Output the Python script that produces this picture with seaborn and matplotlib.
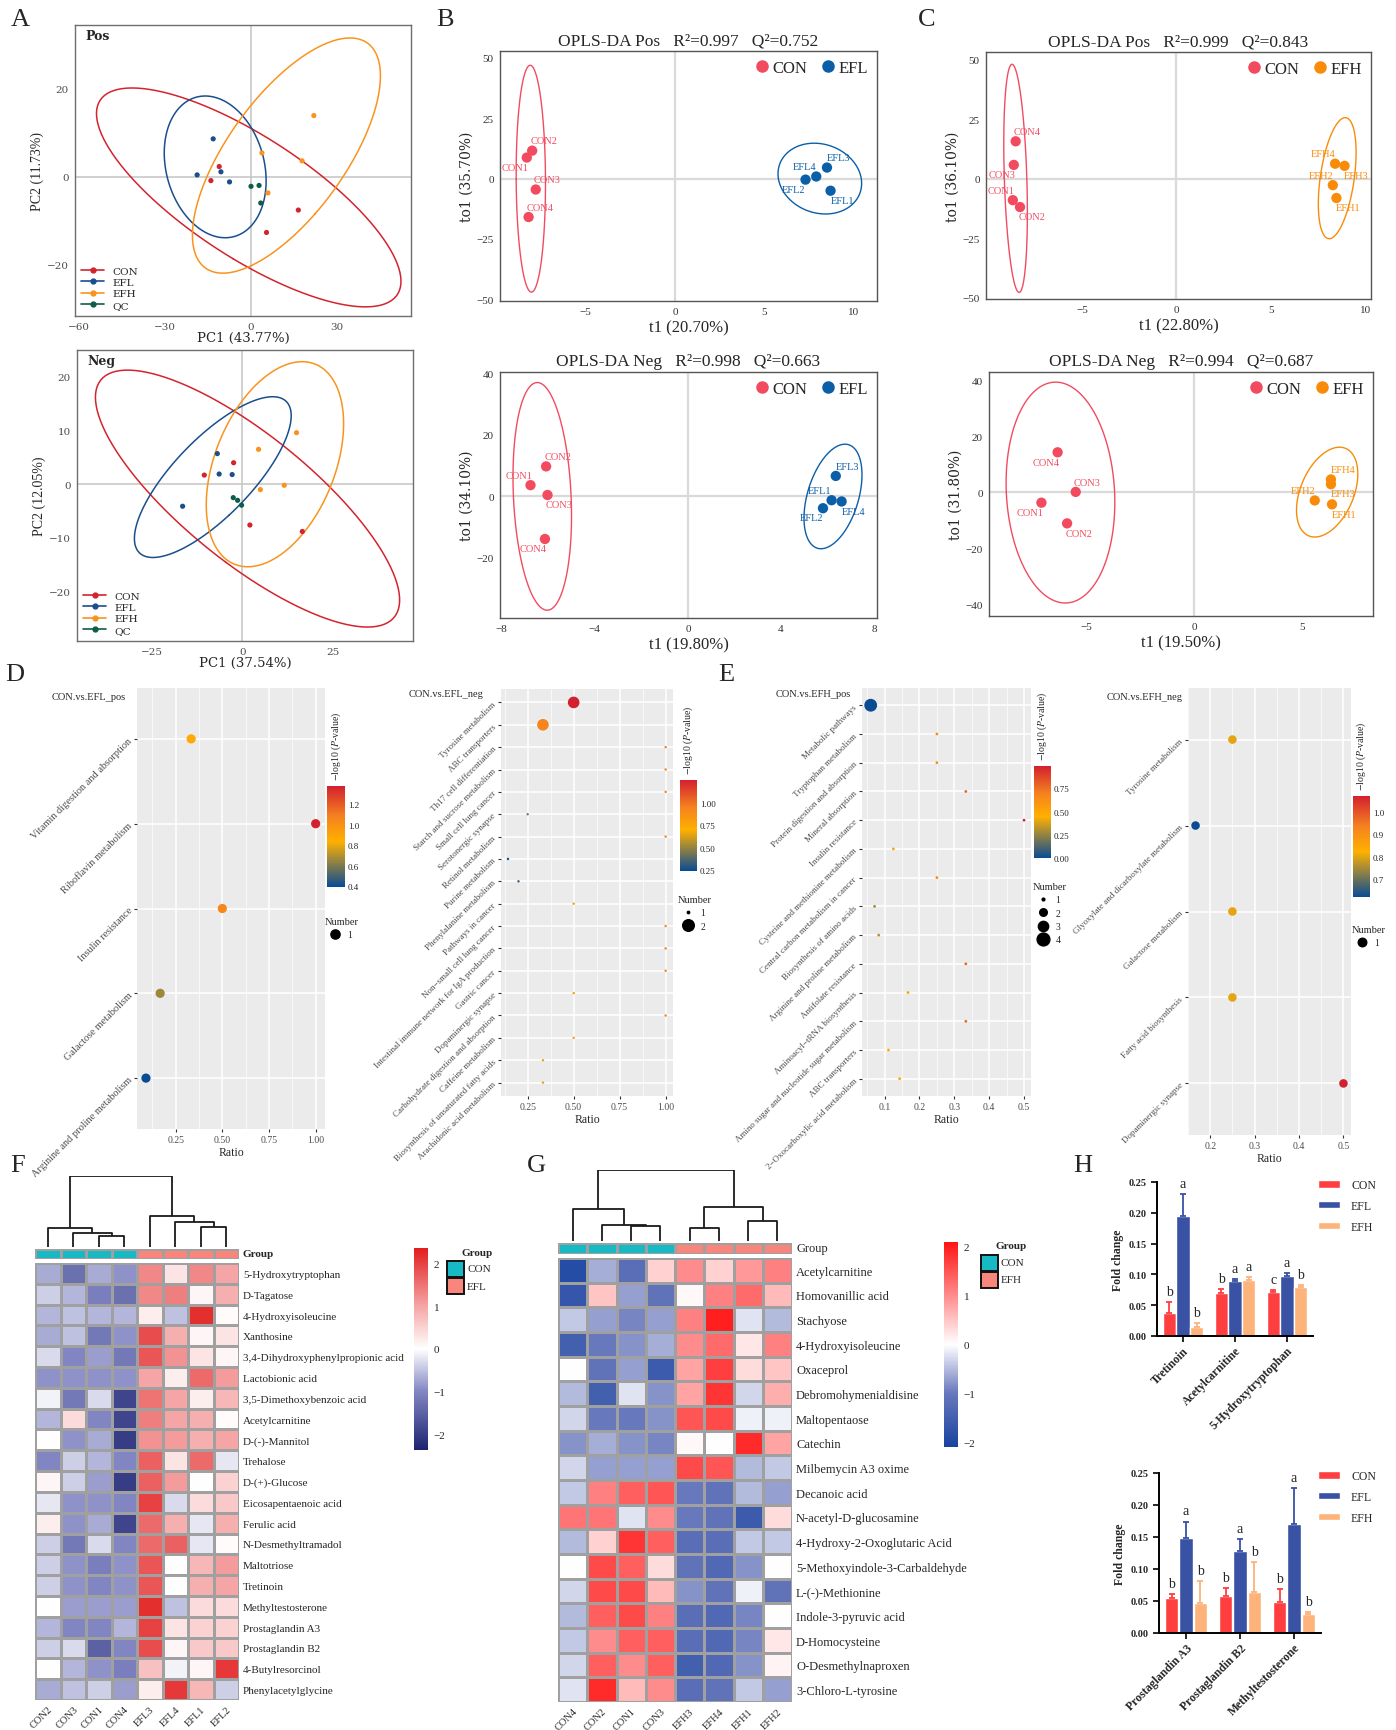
import numpy as np
import pandas as pd
import matplotlib
matplotlib.use("Agg")
import matplotlib.pyplot as plt
import seaborn as sns
from matplotlib.colors import LinearSegmentedColormap, ListedColormap, Normalize
from matplotlib.lines import Line2D
from matplotlib.patches import Patch, Rectangle
from matplotlib.cm import ScalarMappable

sns.set_style("white")
SERIF = ["Liberation Serif", "DejaVu Serif"]
WIDE = "DejaVu Serif"
plt.rcParams["font.family"] = SERIF
plt.rcParams["mathtext.fontset"] = "stix"
plt.rcParams["axes.unicode_minus"] = True

# ---------------- A: PCA scores ----------------
pca_groups = ["CON", "EFL", "EFH", "QC"]
pca_pos = {
    "CON": ([-11.1, -14.0, 16.5, 5.4], [2.3, -0.9, -7.6, -12.7]),
    "EFL": ([-13.2, -18.8, -10.5, -7.5], [8.6, 0.4, 1.1, -1.2]),
    "EFH": ([21.9, 3.8, 17.8, 5.9], [13.9, 5.4, 3.6, -3.7]),
    "QC": ([0.0, 2.8, 3.4], [-2.2, -2.0, -6.0]),
}
pca_neg = {
    "CON": ([-10.5, -2.4, 2.1, 16.6], [1.7, 4.0, -7.6, -8.8]),
    "EFL": ([-6.9, -6.4, -2.8, -16.5], [5.7, 1.9, 1.8, -4.1]),
    "EFH": ([15.0, 4.5, 5.0, 11.6], [9.6, 6.5, -1.0, -0.2]),
    "QC": ([-2.5, -1.3, -0.2], [-2.5, -3.0, -3.9]),
}

# ---------------- B / C: OPLS-DA scores (samples 1..4) ----------------
b_pos_con = ([-8.3, -8.0, -7.8, -8.2], [8.75, 11.6, -4.5, -15.9])
b_pos_efl = ([8.7, 7.3, 8.5, 7.9], [-5.0, -0.4, 4.6, 0.9])
b_neg_con = ([-6.76, -6.09, -6.03, -6.14], [3.6, 9.7, 0.4, -13.9])
b_neg_efl = ([6.17, 5.8, 6.35, 6.6], [-1.3, -3.9, 6.6, -1.7])
c_pos_con = ([-8.65, -8.27, -8.6, -8.5], [-9.0, -11.9, 5.8, 15.7])
c_pos_efh = ([8.47, 8.28, 8.9, 8.4], [-8.1, -2.7, 5.4, 6.3])
c_neg_con = ([-7.07, -5.88, -5.48, -6.32], [-3.7, -11.1, 0.15, 14.3])
c_neg_efh = ([6.4, 5.6, 6.35, 6.35], [-4.3, -2.9, 2.9, 4.6])

# ---------------- D / E: enrichment bubbles ----------------
d1_path = ["Vitamin digestion and absorption", "Riboflavin metabolism", "Insulin resistance",
           "Galactose metabolism", "Arginine and proline metabolism"]
d1_ratio = [0.333, 1.0, 0.5, 0.167, 0.091]
d1_logp = [0.87, 1.38, 1.05, 0.66, 0.39]
d1_num = [1, 1, 1, 1, 1]

d2_path = ["Tyrosine metabolism", "ABC transporters", "Th17 cell differentiation",
           "Starch and sucrose metabolism", "Small cell lung cancer", "Serotonergic synapse",
           "Retinol metabolism", "Purine metabolism", "Phenylalanine metabolism",
           "Pathways in cancer", "Non\u2212small cell lung cancer",
           "Intestinal immune network for IgA production", "Gastric cancer",
           "Dopaminergic synapse", "Carbohydrate digestion and absorption",
           "Caffeine metabolism", "Biosynthesis of unsaturated fatty acids",
           "Arachidonic acid metabolism"]
d2_ratio = [0.5, 0.333, 1, 1, 1, 0.25, 1, 0.143, 0.2, 0.5, 1, 1, 1, 0.5, 1, 0.5, 0.333, 0.333]
d2_logp = [1.25, 0.93, 0.95, 0.95, 0.95, 0.45, 0.95, 0.24, 0.32, 0.8, 0.95, 0.95, 0.95,
           0.8, 0.95, 0.8, 0.64, 0.64]
d2_num = [2, 2] + [1] * 16

e1_path = ["Metabolic pathways", "Tryptophan metabolism", "Protein digestion and absorption",
           "Mineral absorption", "Insulin resistance", "Cysteine and methionine metabolism",
           "Central carbon metabolism in cancer", "Biosynthesis of amino acids",
           "Arginine and proline metabolism", "Antifolate resistance",
           "Aminoacyl\u2212tRNA biosynthesis", "Amino sugar and nucleotide sugar metabolism",
           "ABC transporters", "2\u2212Oxocarboxylic acid metabolism"]
e1_ratio = [0.06, 0.25, 0.25, 0.333, 0.5, 0.125, 0.25, 0.071, 0.083, 0.333, 0.167, 0.333, 0.111, 0.143]
e1_logp = [0.0, 0.64, 0.64, 0.78, 0.99, 0.5, 0.64, 0.28, 0.32, 0.78, 0.52, 0.78, 0.47, 0.5]
e1_num = [4] + [1] * 13

e2_path = ["Tyrosine metabolism", "Glyoxylate and dicarboxylate metabolism",
           "Galactose metabolism", "Fatty acid biosynthesis", "Dopaminergic synapse"]
e2_ratio = [0.25, 0.167, 0.25, 0.25, 0.5]
e2_logp = [0.80, 0.62, 0.80, 0.80, 1.07]
e2_num = [1, 1, 1, 1, 1]

# ---------------- F / G: heatmaps ----------------
f_cols = ["CON2", "CON3", "CON1", "CON4", "EFL3", "EFL4", "EFL1", "EFL2"]
f_rows = ["5-Hydroxytryptophan", "D-Tagatose", "4-Hydroxyisoleucine", "Xanthosine",
          "3,4-Dihydroxyphenylpropionic acid", "Lactobionic acid", "3,5-Dimethoxybenzoic acid",
          "Acetylcarnitine", "D-(-)-Mannitol", "Trehalose", "D-(+)-Glucose",
          "Eicosapentaenoic acid", "Ferulic acid", "N-Desmethyltramadol", "Maltotriose",
          "Tretinoin", "Methyltestosterone", "Prostaglandin A3", "Prostaglandin B2",
          "4-Butylresorcinol", "Phenylacetylglycine"]
f_vals = [
    [-0.7, -1.3, -0.7, -0.9, 1.3, 0.3, 1.3, 1.0],
    [-0.4, -0.6, -1.1, -1.3, 1.3, 1.4, 0.1, 0.9],
    [-0.6, -0.5, -0.6, -0.6, 0.2, -0.5, 2.2, 0.05],
    [-0.7, -0.5, -1.2, -0.9, 1.9, 0.9, 0.1, 0.3],
    [-0.3, -1.0, -0.8, -1.2, 1.8, 1.2, 0.3, 0.1],
    [-0.9, -0.9, -0.9, -0.9, 1.0, 0.2, 1.6, 1.1],
    [-0.1, -1.2, -0.3, -1.9, 1.5, 1.0, 0.2, 0.8],
    [-0.6, 0.4, -1.0, -1.9, 1.4, 1.0, 0.9, 0.05],
    [0.0, -0.9, -0.7, -2.0, 1.2, 1.1, 0.9, 1.0],
    [-1.0, -0.4, -0.6, -1.0, 1.7, 0.3, 1.6, -0.2],
    [0.1, -0.4, -0.8, -2.0, 1.7, 1.1, 0.0, 0.5],
    [-0.2, -0.9, -0.9, -1.0, 2.0, -0.3, 0.4, 0.6],
    [0.2, -0.9, -0.7, -1.9, 1.6, 0.9, -0.2, 0.9],
    [-0.4, -1.2, -0.3, -1.0, 1.6, 1.7, -0.2, 0.05],
    [-0.4, -0.9, -1.1, -0.9, 1.8, 0.0, 0.8, 1.1],
    [-0.4, -0.9, -1.0, -0.9, 1.8, 0.0, 0.9, 1.0],
    [0.0, -0.8, -0.8, -0.8, 2.2, -0.5, 0.4, 0.4],
    [-0.6, -1.0, -1.0, -0.6, 2.0, 0.3, 0.5, 0.5],
    [-0.4, -0.3, -1.5, -1.0, 1.9, 0.1, 0.6, 0.6],
    [0.0, -0.6, -0.9, -1.1, 0.7, -0.1, 0.1, 2.1],
    [-0.7, -0.5, -0.4, -0.8, 0.2, 2.1, 0.8, -0.4],
]
# merges: (left id, right id, height); leaves are 0..7 in display order
f_tree = [(2, 3, 30), (1, 8, 37), (0, 9, 49), (6, 7, 54), (5, 11, 65), (4, 12, 82), (10, 13, 187)]

g_cols = ["CON4", "CON2", "CON1", "CON3", "EFH3", "EFH4", "EFH1", "EFH2"]
g_rows = ["Acetylcarnitine", "Homovanillic acid", "Stachyose", "4-Hydroxyisoleucine", "Oxaceprol",
          "Debromohymenialdisine", "Maltopentaose", "Catechin", "Milbemycin A3 oxime",
          "Decanoic acid", "N-acetyl-D-glucosamine", "4-Hydroxy-2-Oxoglutaric Acid",
          "5-Methoxyindole-3-Carbaldehyde", "L-(-)-Methionine", "Indole-3-pyruvic acid",
          "D-Homocysteine", "O-Desmethylnaproxen", "3-Chloro-L-tyrosine"]
g_vals = [
    [-1.9, -0.6, -1.2, 0.4, 1.0, 0.4, 0.9, 1.1],
    [-1.7, 0.5, -0.7, -1.1, 0.05, 1.1, 1.3, 0.6],
    [-0.4, -0.7, -0.9, -0.7, 1.1, 2.0, -0.2, -0.5],
    [-1.5, -1.0, -0.8, -0.6, 1.0, 1.3, 0.2, 1.1],
    [0.0, -1.1, -0.7, -1.6, 0.8, 1.7, 0.3, 0.5],
    [-0.5, -1.5, -0.2, -0.8, 0.8, 1.8, -0.3, 0.7],
    [-0.3, -1.0, -1.0, -0.8, 1.5, 1.6, -0.1, -0.1],
    [-0.8, -0.6, -0.8, -0.9, 0.05, 0.0, 1.9, 0.8],
    [-0.3, -0.7, -0.7, -0.7, 1.6, 1.5, -0.5, -0.4],
    [-0.4, 1.1, 1.4, 1.5, -1.0, -1.1, -0.5, -0.7],
    [1.2, 1.2, -0.2, 1.0, -1.0, -1.1, -1.6, 0.3],
    [-0.5, 0.4, 1.8, 1.4, -1.2, -1.2, -0.4, -0.4],
    [0.0, 1.6, 1.4, 0.3, -1.1, -1.3, -0.8, 0.0],
    [-0.3, 1.6, 1.6, 0.6, -0.8, -1.1, -0.1, -1.1],
    [-0.5, 1.4, 1.6, 1.1, -1.2, -1.3, -0.9, 0.0],
    [-0.4, 1.0, 1.4, 1.4, -1.2, -1.3, -0.9, 0.2],
    [-0.3, 1.4, 1.0, 1.4, -1.5, -1.3, -0.8, 0.1],
    [-0.2, 1.9, 0.6, 1.0, -1.2, -1.1, -0.4, -0.7],
]
g_tree = [(2, 3, 41), (1, 8, 45), (0, 9, 88), (4, 5, 36), (6, 7, 55), (11, 12, 93), (10, 13, 193)]

# ---------------- H: fold change bars ----------------
h_groups = ["CON", "EFL", "EFH"]
h1_metab = ["Tretinoin", "Acetylcarnitine", "5-Hydroxytryptophan"]
h1_mean = {"CON": [0.038, 0.069, 0.071], "EFL": [0.195, 0.089, 0.098], "EFH": [0.015, 0.091, 0.079]}
h1_sd = {"CON": [0.017, 0.007, 0.003], "EFL": [0.036, 0.004, 0.004], "EFH": [0.006, 0.004, 0.004]}
h1_sig = {"CON": ["b", "b", "c"], "EFL": ["a", "a", "a"], "EFH": ["b", "a", "b"]}
h2_metab = ["Prostaglandin A3", "Prostaglandin B2", "Methyltestosterone"]
h2_mean = {"CON": [0.054, 0.0585, 0.049], "EFL": [0.149, 0.128, 0.170], "EFH": [0.047, 0.064, 0.030]}
h2_sd = {"CON": [0.007, 0.0115, 0.0195], "EFL": [0.025, 0.019, 0.057], "EFH": [0.034, 0.047, 0.003]}
h2_sig = {"CON": ["b", "b", "b"], "EFL": ["a", "a", "a"], "EFH": ["b", "b", "b"]}

# ---------------- styles ----------------
pca_colors = {"CON": "#D3242E", "EFL": "#1A4E8D", "EFH": "#F8941E", "QC": "#0E5C4A"}
opls_colors = {"CON": "#F24B60", "EFL": "#0B5EA8", "EFH": "#F88C0A"}
dot_cmap = LinearSegmentedColormap.from_list(
    "dot", [(0, "#0A4B94"), (0.45, "#FFB000"), (0.7, "#F5821F"), (1, "#D3202F")])
f_cmap = LinearSegmentedColormap.from_list(
    "f", [(0, "#1C2470"), (0.289, "#8286C2"), (0.5, "#FFFFFF"), (0.711, "#F5A6A6"), (1, "#E21E1E")])
g_cmap = LinearSegmentedColormap.from_list(
    "g", [(0, "#1843A0"), (0.262, "#6878BC"), (0.5, "#FFFFFF"), (0.738, "#FF8C8C"), (1, "#FF1414")])
grp_colors = ["#17B9C4", "#F8867D"]
h_colors = {"CON": "#FF3F3F", "EFL": "#3A52A4", "EFH": "#FDB37A"}

W, H = 1396, 1731
fig = plt.figure(figsize=(W / 100, H / 100), dpi=100)


def fx(x):
    return x / W


def fy(y):
    return 1 - y / H


def add_ax(l, t, r, b):
    return fig.add_axes([fx(l), fy(b), (r - l) / W, (b - t) / H])


def conf_ellipse(x, y, k=3.7, n=120):
    x = np.asarray(x, float)
    y = np.asarray(y, float)
    vals, vecs = np.linalg.eigh(np.cov(x, y))
    t = np.linspace(0, 2 * np.pi, n)
    circ = np.vstack([np.cos(t), np.sin(t)]) * np.sqrt(np.clip(vals, 0, None))[:, None]
    pts = vecs @ circ * k
    return x.mean() + pts[0], y.mean() + pts[1]


def frame(ax, color="#6E6E6E", lw=1.0):
    for s in ax.spines.values():
        s.set_visible(True)
        s.set_color(color)
        s.set_linewidth(lw)


# ---------------- panel A ----------------
def pca_panel(ax, data, tag, xlab, ylab, xlim, ylim, xt, yt):
    ax.axhline(0, color="#C4C4C4", lw=1.1, zorder=0)
    ax.axvline(0, color="#C4C4C4", lw=1.1, zorder=0)
    for g in pca_groups:
        xs, ys = data[g]
        c = pca_colors[g]
        if len(xs) > 3:
            ex, ey = conf_ellipse(xs, ys)
            ax.plot(ex, ey, color=c, lw=1.1)
        sns.scatterplot(x=xs, y=ys, color=c, s=14, edgecolor="none", ax=ax, zorder=3)
    ax.set_xlim(xlim)
    ax.set_ylim(ylim)
    ax.set_xticks(xt)
    ax.set_yticks(yt)
    ax.tick_params(labelsize=7.5, labelcolor="#4D4D4D", length=3, color="#6E6E6E",
                   labelfontfamily=WIDE, pad=1.5)
    ax.set_xlabel(xlab, fontsize=9.5, family=WIDE, labelpad=0)
    ax.set_ylabel(ylab, fontsize=10, labelpad=2)
    frame(ax)
    ax.text(0.03, 0.985, tag, transform=ax.transAxes, ha="left", va="top", fontsize=9,
            weight="bold", family=WIDE)
    hd = [Line2D([0], [0], color=pca_colors[g], lw=1.2, marker="o", ms=3.5) for g in pca_groups]
    ax.legend(hd, pca_groups, loc="lower left", frameon=False, handlelength=2.2,
              labelspacing=0.2, borderaxespad=0.2, prop={"family": WIDE, "size": 7.5})


axA1 = add_ax(75, 26, 411, 317)
pca_panel(axA1, pca_pos, "Pos", "PC1 (43.77%)", "PC2 (11.73%)", (-61.4, 55.8), (-31.7, 34.5),
          [-60, -30, 0, 30], [-20, 0, 20])
axA2 = add_ax(77, 351, 413, 642)
pca_panel(axA2, pca_neg, "Neg", "PC1 (37.54%)", "PC2 (12.05%)", (-45.7, 47.2), (-29.2, 25),
          [-25, 0, 25], [-20, -10, 0, 10, 20])


# ---------------- panels B / C ----------------
def opls_panel(ax, title, grp, con, oth, offs, xlim, ylim, xt, yt, xlab, ylab):
    ax.axhline(0, color="#DADADA", lw=1.6, zorder=0)
    ax.axvline(0, color="#DADADA", lw=1.6, zorder=0)
    for k, (name, (xs, ys)) in enumerate([("CON", con), (grp, oth)]):
        c = opls_colors[name]
        ex, ey = conf_ellipse(xs, ys)
        ax.plot(ex, ey, color=c, lw=1.0)
        sns.scatterplot(x=xs, y=ys, color=c, s=55, edgecolor="none", ax=ax, zorder=3)
        for i, (x, y) in enumerate(zip(xs, ys)):
            sx, sy = offs[k][i]
            ax.annotate(f"{name}{i + 1}", (x, y), xytext=(sx * 8.5, sy * 7),
                        textcoords="offset points", ha="center", va="center",
                        color=c, fontsize=7.5)
    ax.set_xlim(xlim)
    ax.set_ylim(ylim)
    ax.set_xticks(xt)
    ax.set_yticks(yt)
    ax.tick_params(labelsize=8, labelcolor="#333333", length=3, color="#6E6E6E", pad=1.5)
    ax.set_title(title, fontsize=12.5, pad=5)
    ax.set_xlabel(xlab, fontsize=12, labelpad=2)
    ax.set_ylabel(ylab, fontsize=10, family=WIDE, labelpad=2)
    frame(ax, "#555555", 1.0)
    hd = [Line2D([], [], ls="none", marker="o", ms=8, color=opls_colors[n]) for n in ("CON", grp)]
    ax.legend(hd, ["CON", grp], loc="upper right", ncol=2, frameon=False, fontsize=12,
              handletextpad=0.05, columnspacing=0.6, borderaxespad=0.15, handlelength=1.2)


b_pos_off = ([(-1, -1), (1, 1), (1, 1), (1, 1)], [(1, -1), (-1, -1), (1, 1), (-1, 1)])
b_neg_off = ([(-1, 1), (1, 1), (1, -1), (-1, -1)], [(-1, 1), (-1, -1), (1, 1), (1, -1)])
c_pos_off = ([(-1, 1), (1, -1), (-1, -1), (1, 1)], [(1, -1), (-1, 1), (1, -1), (-1, 1)])
c_neg_off = ([(-1, -1), (1, -1), (1, 1), (-1, -1)], [(1, -1), (-1, 1), (1, -1), (1, 1)])

axB1 = add_ax(500, 52, 877, 302)
opls_panel(axB1, "OPLS-DA Pos   R\u00b2=0.997   Q\u00b2=0.752", "EFL", b_pos_con, b_pos_efl, b_pos_off,
           (-9.8, 11.3), (-50.7, 52.9), [-5, 0, 5, 10], [-50, -25, 0, 25, 50],
           "t1 (20.70%)", "to1 (35.70%)")
axB2 = add_ax(500, 373, 877, 619)
opls_panel(axB2, "OPLS-DA Neg   R\u00b2=0.998   Q\u00b2=0.663", "EFL", b_neg_con, b_neg_efl, b_neg_off,
           (-8.07, 8.12), (-39.6, 40.4), [-8, -4, 0, 4, 8], [-20, 0, 20, 40],
           "t1 (19.80%)", "to1 (34.10%)")
axC1 = add_ax(986, 53, 1371, 300)
opls_panel(axC1, "OPLS-DA Pos   R\u00b2=0.999   Q\u00b2=0.843", "EFH", c_pos_con, c_pos_efh, c_pos_off,
           (-10.07, 10.3), (-50.5, 53.2), [-5, 0, 5, 10], [-50, -25, 0, 25, 50],
           "t1 (22.80%)", "to1 (36.10%)")
axC2 = add_ax(989, 373, 1373, 617)
opls_panel(axC2, "OPLS-DA Neg   R\u00b2=0.994   Q\u00b2=0.687", "EFH", c_neg_con, c_neg_efh, c_neg_off,
           (-9.5, 8.3), (-44.2, 43), [-5, 0, 5], [-40, -20, 0, 20, 40],
           "t1 (19.50%)", "to1 (31.80%)")


# ---------------- panels D / E ----------------
def dot_panel(rect, paths, ratio, logp, num, title, title_xy, xt, xfmt, xlim, sizes, cb_rect,
              cticks, cfmt, leg_xy, label_fs):
    ax = add_ax(*rect)
    n = len(paths)
    df = pd.DataFrame({"Ratio": ratio, "y": np.arange(n)[::-1], "logp": logp, "Number": num})
    norm = Normalize(min(logp), max(logp))
    ax.set_facecolor("#EBEBEB")
    ax.set_axisbelow(True)
    sns.scatterplot(data=df, x="Ratio", y="y", hue="logp", hue_norm=norm, palette=dot_cmap,
                    size="Number", sizes=sizes, edgecolor="none", legend=False, ax=ax, zorder=3)
    ax.set_xlim(xlim)
    ax.set_ylim(-0.6, n - 0.4)
    ax.set_xticks(xt)
    ax.set_xticklabels([xfmt.format(v) for v in xt])
    mids = [(a + b) / 2 for a, b in zip(xt[:-1], xt[1:])]
    ax.set_xticks([xt[0] - (xt[1] - xt[0]) / 2] + mids, minor=True)
    ax.set_yticks(df["y"])
    ax.set_yticklabels(paths, rotation=45, ha="right", va="center", rotation_mode="anchor",
                       fontsize=label_fs, color="#4D4D4D")
    ax.grid(True, which="major", color="white", lw=1.1)
    ax.grid(True, which="minor", axis="x", color="white", lw=0.5)
    for s in ax.spines.values():
        s.set_visible(False)
    ax.tick_params(axis="both", which="major", length=2.5, color="#333333", labelsize=label_fs,
                   pad=2, bottom=True, left=True)
    ax.tick_params(axis="x", labelcolor="#4D4D4D", labelsize=7)
    ax.tick_params(which="minor", length=0)
    ax.set_xlabel("Ratio", fontsize=8.5, labelpad=1)
    ax.set_ylabel("")
    fig.text(fx(title_xy[0]), fy(title_xy[1]), title, fontsize=7.5, ha="left", va="center")
    cax = add_ax(*cb_rect)
    cb = fig.colorbar(ScalarMappable(norm=norm, cmap=dot_cmap), cax=cax)
    cb.set_ticks(cticks)
    cb.set_ticklabels([cfmt.format(v) for v in cticks])
    cb.outline.set_visible(False)
    cax.tick_params(length=3, color="white", direction="in", labelsize=6.5, pad=2)
    fig.text(fx((cb_rect[0] + cb_rect[2]) / 2), fy(cb_rect[1] - 6),
             r"$-$log10 ($\mathit{P}$-value)", rotation=90, ha="center", va="bottom", fontsize=7)
    levels = sorted(sizes)
    hd = [Line2D([], [], ls="none", marker="o", color="black", ms=np.sqrt(sizes[v])) for v in levels]
    leg = fig.legend(hd, [str(v) for v in levels], title="Number", loc="upper left",
                     bbox_to_anchor=(fx(leg_xy[0]), fy(leg_xy[1])), frameon=False,
                     fontsize=7, title_fontsize=7.5, handletextpad=0.3, labelspacing=0.45,
                     borderaxespad=0, borderpad=0)
    leg._legend_box.align = "left"
    return ax


dot_panel((137, 689, 325, 1130), d1_path, d1_ratio, d1_logp, d1_num, "CON.vs.EFL_pos", (52, 697),
          [0.25, 0.5, 0.75, 1.0], "{:.2f}", (0.043, 1.05), {1: 44}, (327, 787, 345, 888),
          [0.4, 0.6, 0.8, 1.0, 1.2], "{:.1f}", (325, 918), 7.5)
dot_panel((501, 690, 673, 1097), d2_path, d2_ratio, d2_logp, d2_num, "CON.vs.EFL_neg", (409, 695),
          [0.25, 0.5, 0.75, 1.0], "{:.2f}", (0.105, 1.04), {1: 3, 2: 70}, (680, 781, 697, 872),
          [0.25, 0.5, 0.75, 1.0], "{:.2f}", (678, 896), 6.5)
dot_panel((862, 689, 1031, 1097), e1_path, e1_ratio, e1_logp, e1_num, "CON.vs.EFH_pos", (776, 695),
          [0.1, 0.2, 0.3, 0.4, 0.5], "{:.1f}", (0.035, 0.52), {1: 4, 2: 30, 3: 55, 4: 85},
          (1034, 767, 1051, 859), [0.0, 0.25, 0.5, 0.75], "{:.2f}", (1033, 883), 6.5)
dot_panel((1188, 689, 1351, 1136), e2_path, e2_ratio, e2_logp, e2_num, "CON.vs.EFH_neg", (1107, 697),
          [0.2, 0.3, 0.4, 0.5], "{:.1f}", (0.152, 0.517), {1: 38}, (1353, 797, 1370, 898),
          [0.7, 0.8, 0.9, 1.0], "{:.1f}", (1352, 926), 6.5)


# ---------------- panels F / G ----------------
def draw_tree(ax, merges, n):
    xs = {i: i + 0.5 for i in range(n)}
    hs = {i: 0.0 for i in range(n)}
    for k, (a, b, h) in enumerate(merges):
        ax.plot([xs[a], xs[a], xs[b], xs[b]], [hs[a], h, h, hs[b]], color="#1A1A1A", lw=1.3,
                solid_capstyle="butt")
        xs[n + k] = (xs[a] + xs[b]) / 2
        hs[n + k] = h
    ax.set_xlim(0, n)
    ax.set_ylim(0, max(m[2] for m in merges) + 1)
    ax.axis("off")


def heat_panel(vals, rows, cols, tree, cmap, vlim, x0, x1, tree_t, tree_b, grp_t, grp_b, hm_t, hm_b,
               row_fs, group_bold, cb_rect, leg_x, leg_t, grp2):
    tax = add_ax(x0, tree_t, x1, tree_b)
    draw_tree(tax, tree, len(cols))
    gax = add_ax(x0, grp_t, x1, grp_b)
    codes = np.array([[0 if c.startswith("CON") else 1 for c in cols]])
    sns.heatmap(codes, ax=gax, cmap=ListedColormap(grp_colors), vmin=0, vmax=1, cbar=False,
                linewidths=0.9, linecolor="#A0A0A0", xticklabels=False, yticklabels=False)
    gax.text(len(cols) + 0.15, 0.5, "Group", ha="left", va="center", fontsize=row_fs,
             weight="bold" if group_bold else "normal")
    hax = add_ax(x0, hm_t, x1, hm_b)
    sns.heatmap(pd.DataFrame(vals, index=rows, columns=cols), ax=hax, cmap=cmap, vmin=vlim[0],
                vmax=vlim[1], cbar=False, linewidths=0.9, linecolor="#A0A0A0")
    hax.yaxis.tick_right()
    hax.set_yticklabels(rows, rotation=0, fontsize=row_fs)
    hax.set_xticklabels(cols, rotation=45, ha="right", rotation_mode="anchor", fontsize=7.5)
    hax.tick_params(length=0, pad=3)
    hax.set_xlabel("")
    hax.set_ylabel("")
    cax = add_ax(*cb_rect)
    cb = fig.colorbar(ScalarMappable(norm=Normalize(*vlim), cmap=cmap), cax=cax)
    cb.set_ticks([-2, -1, 0, 1, 2])
    cb.outline.set_visible(False)
    cax.tick_params(length=0, labelsize=8, pad=4)
    fig.text(fx(leg_x), fy(leg_t), "Group", ha="left", va="center", fontsize=8, weight="bold")
    for i, (lab, col) in enumerate(zip(["CON", grp2], grp_colors)):
        top = leg_t + 9 + i * 17
        fig.add_artist(Rectangle((fx(leg_x - 14), fy(top + 16)), 17 / W, 16 / H,
                                 transform=fig.transFigure, facecolor=col, edgecolor="#111111",
                                 lw=1.4))
        fig.text(fx(leg_x + 6), fy(top + 8), lab, ha="left", va="center", fontsize=8)


heat_panel(f_vals, f_rows, f_cols, f_tree, f_cmap, (-2.37, 2.37), 35, 239, 1177, 1248, 1250, 1260,
           1264, 1701, 8, True, (414, 1249, 428, 1451), 461, 1253, "EFL")
heat_panel(g_vals, g_rows, g_cols, g_tree, g_cmap, (-2.1, 2.1), 558, 792, 1171, 1242, 1244, 1255,
           1259, 1703, 9, False, (944, 1243, 958, 1448), 995, 1247, "EFH")


# ---------------- panel H ----------------
def bar_panel(rect, metab, mean, sd, sig, leg_top):
    ax = add_ax(*rect)
    df = pd.DataFrame([(m, g, mean[g][i]) for g in h_groups for i, m in enumerate(metab)],
                      columns=["metab", "group", "value"])
    sns.barplot(data=df, x="metab", y="value", hue="group", order=metab, hue_order=h_groups,
                palette=h_colors, errorbar=None, saturation=1, width=0.8, gap=0.06,
                legend=False, ax=ax)
    for gi, g in enumerate(h_groups):
        for j, bar in enumerate(ax.containers[gi]):
            xc = bar.get_x() + bar.get_width() / 2
            top = bar.get_height()
            ax.errorbar(xc, top, yerr=[[0], [sd[g][j]]], color=h_colors[g], capsize=2.5,
                        elinewidth=1.3, capthick=1.3, zorder=1)
            ax.annotate(sig[g][j], (xc, top + sd[g][j]), xytext=(0, 3), textcoords="offset points",
                        ha="center", va="bottom", fontsize=10)
    ax.set_ylim(0, 0.25)
    ax.set_xlim(-0.5, 2.5)
    ax.set_yticks([0, 0.05, 0.10, 0.15, 0.20, 0.25])
    ax.set_yticklabels(["0.00", "0.05", "0.10", "0.15", "0.20", "0.25"], fontweight="bold")
    ax.set_xticks(range(3))
    ax.set_xticklabels(metab, rotation=45, ha="right", rotation_mode="anchor", fontsize=8.5,
                       fontweight="bold")
    ax.tick_params(axis="y", labelsize=7.5, length=4, width=1.4, direction="out", left=True)
    ax.tick_params(axis="x", length=4, width=1.4, direction="out", bottom=True, pad=2)
    ax.set_xlabel("")
    ax.set_ylabel("Fold change", fontsize=8.5, fontweight="bold", labelpad=3)
    sns.despine(ax=ax)
    for s in ("left", "bottom"):
        ax.spines[s].set_linewidth(1.4)
        ax.spines[s].set_color("black")
    hd = [Patch(facecolor=h_colors[g]) for g in h_groups]
    fig.legend(hd, h_groups, loc="upper left", bbox_to_anchor=(fx(1318), fy(leg_top)),
               frameon=False, fontsize=8.5, handlelength=1.9, handleheight=0.6,
               labelspacing=0.75, handletextpad=0.9, borderaxespad=0, borderpad=0)


bar_panel((1157, 1183, 1313, 1337), h1_metab, h1_mean, h1_sd, h1_sig, 1180)
bar_panel((1159, 1474, 1321, 1634), h2_metab, h2_mean, h2_sd, h2_sig, 1471)

# ---------------- panel letters ----------------
for lab, x, y in [("A", 20, 20), ("B", 445, 20), ("C", 927, 20), ("D", 15, 675), ("E", 726, 675),
                  ("F", 18, 1166), ("G", 536, 1166), ("H", 1083, 1166)]:
    fig.text(fx(x), fy(y), lab, fontsize=19, ha="center", va="center")

fig.savefig("out.png", dpi=100)
